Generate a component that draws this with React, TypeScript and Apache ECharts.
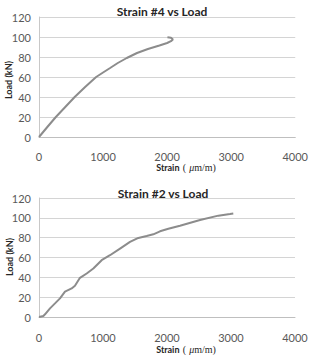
import React, { useEffect, useRef } from "react";
import * as echarts from "echarts";

// Strain gauge #4: strain (μm/m) vs load (kN)
const strain4: number[] = [0, 130, 263, 410, 557, 720, 892, 1000, 1110, 1230, 1370, 1530, 1700, 1880, 2000, 2060, 2090, 2060, 2005];
const load4: number[] = [0, 10, 20, 30, 40, 50, 60, 64.5, 69, 74, 79, 84, 88, 91.5, 94, 95.8, 97.5, 99.3, 99.7];

// Strain gauge #2: strain (μm/m) vs load (kN)
const strain2: number[] = [0, 68, 94, 172, 250, 328, 406, 510, 562, 640, 745, 849, 979, 1109, 1266, 1422, 1552, 1682, 1786, 1891, 2021, 2203, 2516, 2802, 2984, 3036];
const load2: number[] = [0, 1, 2.7, 8.7, 13.7, 18.8, 25.5, 28.8, 31.5, 39.5, 43.9, 48.9, 57.3, 62.3, 69, 75.7, 79.7, 81.7, 83.4, 86.4, 89, 92.1, 97.8, 102.2, 103.9, 104.4];

const titles: string[] = ["Strain #4 vs Load", "Strain #2 vs Load"];
const xTicks = { min: 0, max: 4000, interval: 1000 };
const yTicks = { min: 0, max: 120, interval: 20 };

const LABEL_FONT = "Lato, 'Open Sans', sans-serif";
const lineColor = "#8c8c8c";
const gridColor = "#d4d4d4";

const pairs = (xs: number[], ys: number[]) => xs.map((x, i) => [x, ys[i]]);

export default function App() {
  const ref = useRef<HTMLDivElement>(null);

  useEffect(() => {
    if (!ref.current) return;
    const chart = echarts.init(ref.current, undefined, { renderer: "svg" });

    const grids = [
      { left: 39, right: 14, top: 17, height: 120 },
      { left: 39, right: 16, top: 198, height: 119 },
    ];

    const xAxis = grids.map((_, i) => ({
      type: "value" as const,
      gridIndex: i,
      ...xTicks,
      axisLine: { show: true, lineStyle: { color: "#bfbfbf", width: 1 } },
      axisTick: { show: false },
      splitLine: { show: false },
      axisLabel: {
        color: "#595959",
        fontSize: 11,
        fontFamily: LABEL_FONT,
        margin: i === 0 ? 14 : 15,
        formatter: (v: number) => String(v),
      },
    }));

    const yAxis = grids.map((_, i) => ({
      type: "value" as const,
      gridIndex: i,
      ...yTicks,
      axisLine: { show: true, lineStyle: { color: "#c8c8c8", width: 1 } },
      axisTick: { show: false },
      splitLine: { show: true, lineStyle: { color: gridColor, width: 1 } },
      axisLabel: {
        color: "#595959",
        fontSize: 11,
        fontFamily: LABEL_FONT,
        margin: 8,
        formatter: (v: number) => String(v),
      },
    }));

    const axisName = (x: number, y: number) => ({
      type: "text" as const,
      x,
      y,
      style: {
        text: "{b|Strain} {s|(}{m|μ}{s|m/m)}",
        align: "center",
        verticalAlign: "middle",
        rich: {
          b: { fontSize: 9, fontWeight: "bold", fontFamily: LABEL_FONT, fill: "#262626" },
          s: { fontSize: 10, fontFamily: "'Liberation Serif', 'DejaVu Serif', serif", fill: "#262626" },
          m: { fontSize: 10, fontFamily: "'Liberation Serif', 'DejaVu Serif', serif", fontStyle: "italic", fill: "#262626", padding: [0, 0, 0, 3] },
        },
      },
    });

    const loadName = (x: number, y: number) => ({
      type: "text" as const,
      x,
      y,
      rotation: Math.PI / 2,
      style: {
        text: "Load (kN)",
        align: "center",
        verticalAlign: "middle",
        fontSize: 9,
        fontWeight: "bold",
        fontFamily: LABEL_FONT,
        fill: "#262626",
      },
    });

    const titleStyle = { fontSize: 12, fontWeight: "bold" as const, fontFamily: LABEL_FONT, color: "#262626" };

    chart.setOption({
      animation: false,
      backgroundColor: "#ffffff",
      title: [
        { text: titles[0], left: 157, top: 0, textAlign: "center", textStyle: titleStyle },
        { text: titles[1], left: 158, top: 182, textAlign: "center", textStyle: titleStyle },
      ],
      grid: grids,
      xAxis,
      yAxis,
      series: [
        {
          type: "line",
          xAxisIndex: 0,
          yAxisIndex: 0,
          data: pairs(strain4, load4),
          showSymbol: false,
          lineStyle: { color: lineColor, width: 2 },
        },
        {
          type: "line",
          xAxisIndex: 1,
          yAxisIndex: 1,
          data: pairs(strain2, load2),
          showSymbol: false,
          lineStyle: { color: lineColor, width: 2 },
        },
      ],
      graphic: [axisName(186, 167), axisName(186, 349), loadName(8, 80), loadName(9, 257)],
    });

    return () => chart.dispose();
  }, []);

  return (
    <div
      ref={ref}
      style={{ position: "fixed", left: 0, top: 0, width: 311, height: 355, background: "#fff" }}
    />
  );
}
